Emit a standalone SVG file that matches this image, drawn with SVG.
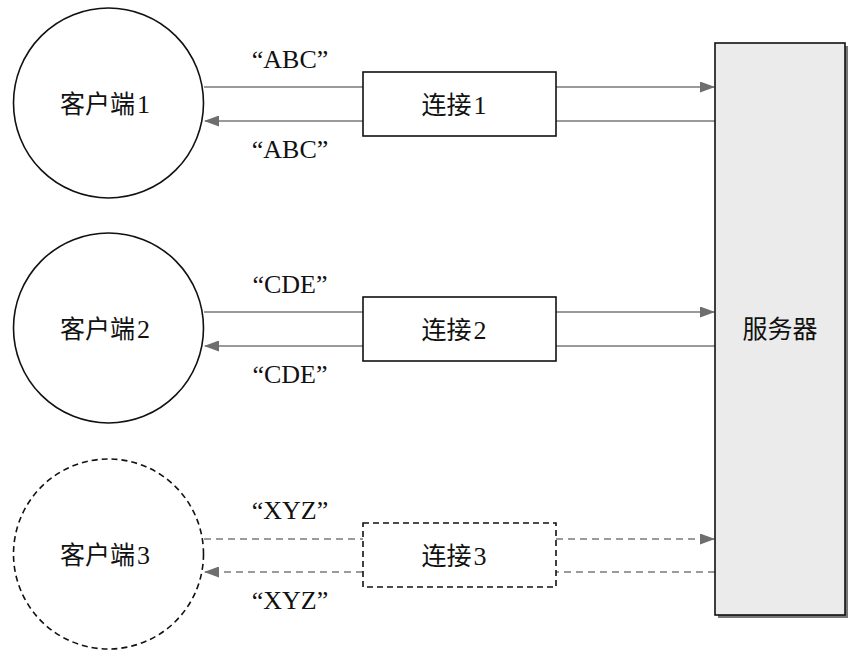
<svg xmlns="http://www.w3.org/2000/svg" width="868" height="660" viewBox="0 0 868 660">
<style>
text{font-family:"Liberation Serif","Noto Sans CJK SC",serif;font-size:25px;fill:#111;text-anchor:middle}
.d{font-family:"Liberation Serif",serif;font-size:26px}
.lbl{font-size:26px}
.node{fill:#fff;stroke:#111;stroke-width:1.6}
.dash{stroke-dasharray:6 4}
.ln{stroke:#7a7a7a;stroke-width:1.4;fill:none}
.lnd{stroke:#7a7a7a;stroke-width:1.4;fill:none;stroke-dasharray:7 5}
</style>
<defs>
<marker id="ah" markerWidth="15" markerHeight="11" refX="14" refY="5.5" orient="auto" markerUnits="userSpaceOnUse">
<path d="M0,0 L15,5.5 L0,11 Z" fill="#6e6e6e"/>
</marker>
</defs>
<rect width="868" height="660" fill="#fff"/>
<g id="connectors">
<path class="ln" d="M204,87 H363 M556,87 H714" marker-end="url(#ah)"/>
<path class="ln" d="M715,121 H556 M363,121 H205" marker-end="url(#ah)"/>
<path class="ln" d="M204,312 H363 M556,312 H714" marker-end="url(#ah)"/>
<path class="ln" d="M715,346 H556 M363,346 H205" marker-end="url(#ah)"/>
<path class="lnd" d="M204,539 H363 M556,539 H714" marker-end="url(#ah)"/>
<path class="lnd" d="M715,572 H556 M363,572 H205" marker-end="url(#ah)"/>
<text class="lbl" x="290" y="68">“ABC”</text>
<text class="lbl" x="290" y="158">“ABC”</text>
<text class="lbl" x="290" y="293">“CDE”</text>
<text class="lbl" x="290" y="383">“CDE”</text>
<text class="lbl" x="290" y="519">“XYZ”</text>
<text class="lbl" x="290" y="609">“XYZ”</text>
</g>
<g id="client1"><circle class="node" cx="108.5" cy="103" r="95"/><text x="105" y="113">客户端<tspan class="d" dx="2">1</tspan></text></g>
<g id="client2"><circle class="node" cx="108.5" cy="328" r="95"/><text x="105" y="338">客户端<tspan class="d" dx="2">2</tspan></text></g>
<g id="client3"><circle class="node dash" cx="108.5" cy="554" r="95"/><text x="105" y="564">客户端<tspan class="d" dx="2">3</tspan></text></g>
<g id="conn1"><rect class="node" x="363" y="72" width="193" height="64"/><text x="454" y="114">连接<tspan class="d" dx="2">1</tspan></text></g>
<g id="conn2"><rect class="node" x="363" y="297" width="193" height="64"/><text x="454" y="339">连接<tspan class="d" dx="2">2</tspan></text></g>
<g id="conn3"><rect class="node dash" x="363" y="523" width="193" height="64"/><text x="454" y="565">连接<tspan class="d" dx="2">3</tspan></text></g>
<g id="server">
<rect x="718" y="46" width="130" height="572" fill="#777"/>
<rect x="715" y="43" width="130" height="572" fill="#ebebeb" stroke="#111" stroke-width="1.6"/>
<text x="780" y="338">服务器</text>
</g>
</svg>
